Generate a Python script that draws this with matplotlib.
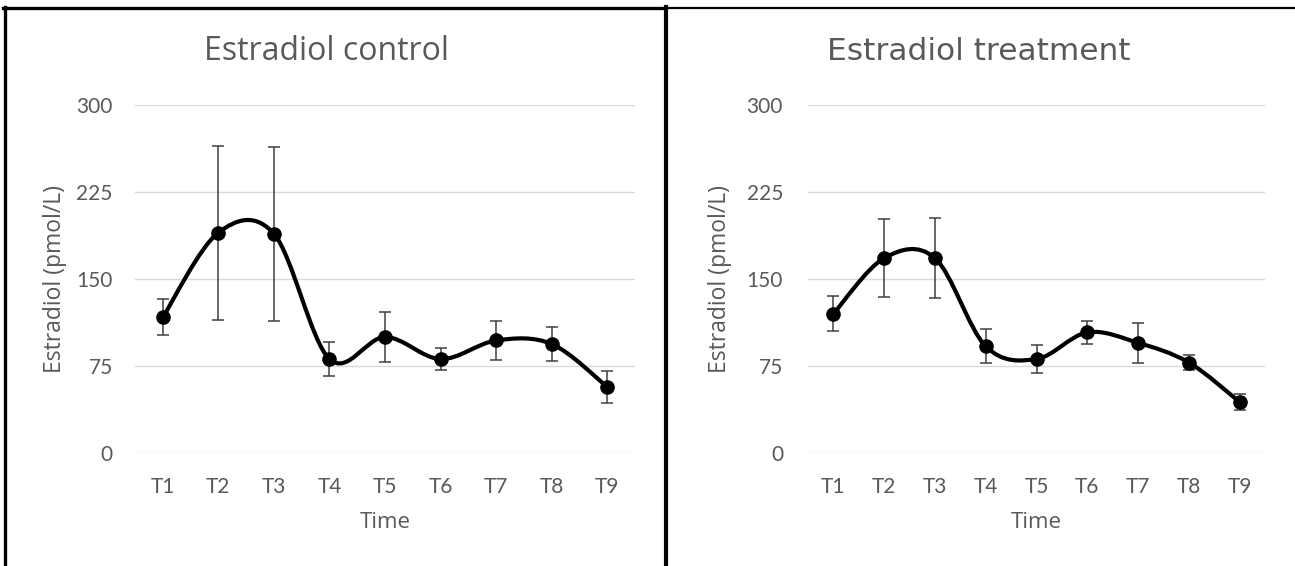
import matplotlib
matplotlib.use("Agg")
import matplotlib.pyplot as plt
from matplotlib.path import Path
from matplotlib.patches import PathPatch
from matplotlib.lines import Line2D
import numpy as np

# ---- data ----
categories = ["T1", "T2", "T3", "T4", "T5", "T6", "T7", "T8", "T9"]
control_mean = [117, 190, 189, 81, 100, 81, 97, 94, 57]
control_err = [15.5, 75, 75, 14.5, 21.5, 9.5, 16.5, 15, 14]
treatment_mean = [120, 168, 168, 92, 81, 104, 95, 78, 44]
treatment_err = [15, 33.5, 34.5, 14.5, 12, 10, 17.5, 6.5, 7]
titles = ["Estradiol control", "Estradiol treatment"]
y_ticks = [0, 75, 150, 225, 300]
y_label = "Estradiol (pmol/L)"
x_label = "Time"

W, H = 1295, 566
fig = plt.figure(figsize=(W / 100, H / 100), dpi=100)
fig.patch.set_facecolor("white")

TXT = "#595959"
GRID = "#D9D9D9"
ERR = "#404040"
FONT = ["Lato", "DejaVu Sans"]
OPEN = ["Open Sans", "DejaVu Sans"]


def smooth_path(xs, ys):
    """Catmull-Rom style cubic Bezier path through the points (Excel-like smoothing)."""
    pts = np.column_stack([xs, ys]).astype(float)
    n = len(pts)
    verts = [pts[0]]
    codes = [Path.MOVETO]
    for i in range(n - 1):
        p0 = pts[i - 1] if i > 0 else pts[i]
        p1 = pts[i]
        p2 = pts[i + 1]
        p3 = pts[i + 2] if i + 2 < n else pts[i + 1]
        c1 = p1 + (p2 - p0) / 6.0
        c2 = p2 - (p3 - p1) / 6.0
        verts += [c1, c2, p2]
        codes += [Path.CURVE4] * 3
    return Path(verts, codes)


def panel(rect, means, errs, title, title_x, title_font, title_size, ylab_x, tick_pad):
    ax = fig.add_axes(rect)
    x = np.arange(len(categories))
    ax.set_xlim(-0.5, len(categories) - 0.5)
    ax.set_ylim(0, 300)
    ax.set_yticks(y_ticks)
    ax.set_xticks(x)
    ax.set_xticklabels(categories)
    for s in ax.spines.values():
        s.set_visible(False)
    ax.grid(axis="y", color=GRID, lw=1.0)
    ax.set_axisbelow(True)
    ax.tick_params(axis="both", length=0, colors=TXT, labelsize=15)
    ax.tick_params(axis="y", pad=tick_pad)
    ax.tick_params(axis="x", pad=17)
    for lab in ax.get_xticklabels() + ax.get_yticklabels():
        lab.set_family(FONT)
    ax.errorbar(x, means, yerr=errs, fmt="none", ecolor=ERR, elinewidth=1.1,
                capsize=4, capthick=1.1, zorder=2)
    patch = PathPatch(smooth_path(x, means), facecolor="none", edgecolor="black",
                      lw=3.0, zorder=3, capstyle="round", joinstyle="round")
    ax.add_patch(patch)
    ax.plot(x, means, "o", color="black", ms=9.5, zorder=4)
    ax.set_ylabel(y_label, color=TXT, fontsize=16.5, family=OPEN)
    ax.yaxis.label.set_va("center")
    ax.yaxis.set_label_coords(ylab_x, 0.5)
    ax.set_xlabel(x_label, color=TXT, fontsize=16, family=OPEN)
    ax.xaxis.label.set_va("center")
    ax.xaxis.set_label_coords(0.5, -70 / 348)
    fig.text(title_x / W, 1 - 52 / H, title, ha="center", va="center",
             color=TXT, fontsize=title_size, family=title_font)
    return ax


panel([135 / W, 1 - 453 / H, 500 / W, 348 / H], control_mean, control_err,
      titles[0], 327, OPEN, 23, (55 - 135) / 500, 16)
panel([808 / W, 1 - 453 / H, 457 / W, 348 / H], treatment_mean, treatment_err,
      titles[1], 979, ["DejaVu Sans"], 22.5, (720 - 808) / 457, 18)

# frame lines (chart borders)
def fline(x0, y0, x1, y1, lw):
    fig.add_artist(Line2D([x0 / W, x1 / W], [1 - y0 / H, 1 - y1 / H],
                          color="black", lw=lw, transform=fig.transFigure))

fline(3, 8, 665, 8, 2.4)
fline(665, 8, W, 8, 1.6)
fline(5, 7, 5, H, 2.4)
fline(665.5, 7, 665.5, H, 3.0)

fig.savefig("out.png", dpi=100, facecolor="white")
